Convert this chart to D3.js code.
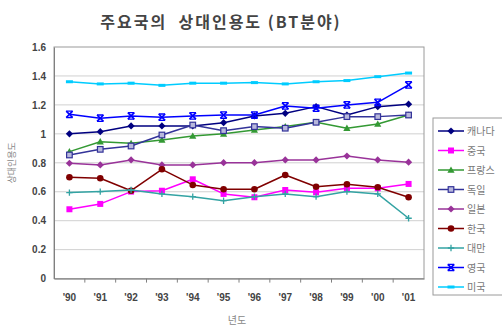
<!DOCTYPE html>
<html>
<head>
<meta charset="utf-8">
<script src="https://cdn.jsdelivr.net/npm/d3@7/dist/d3.min.js"></script>
<style>
  html, body { margin: 0; padding: 0; background: #fff; }
  svg { display: block; }
</style>
</head>
<body>
<svg id="chart" width="502" height="335"></svg>
<script>
// Relative citation index, BT field, by country
const years = ["'90", "'91", "'92", "'93", "'94", "'95", "'96", "'97", "'98", "'99", "'00", "'01"];
const yTicks = [0, 0.2, 0.4, 0.6, 0.8, 1, 1.2, 1.4, 1.6];

const canada  = [1.00, 1.015, 1.055, 1.055, 1.055, 1.077, 1.124, 1.142, 1.188, 1.13, 1.188, 1.205];
const china   = [0.479, 0.516, 0.601, 0.607, 0.686, 0.585, 0.562, 0.612, 0.596, 0.624, 0.624, 0.654];
const france  = [0.877, 0.946, 0.935, 0.958, 0.985, 1.00, 1.027, 1.05, 1.08, 1.039, 1.068, 1.13];
const germany = [0.854, 0.893, 0.916, 0.992, 1.061, 1.022, 1.05, 1.039, 1.08, 1.119, 1.119, 1.13];
const japan   = [0.797, 0.785, 0.82, 0.785, 0.785, 0.801, 0.801, 0.82, 0.82, 0.847, 0.82, 0.804];
const korea   = [0.70, 0.693, 0.607, 0.755, 0.647, 0.617, 0.617, 0.716, 0.635, 0.652, 0.631, 0.562];
const taiwan  = [0.594, 0.601, 0.612, 0.585, 0.566, 0.538, 0.566, 0.585, 0.566, 0.601, 0.585, 0.417];
const uk      = [1.135, 1.108, 1.124, 1.115, 1.124, 1.13, 1.13, 1.193, 1.177, 1.2, 1.218, 1.338];
const usa     = [1.36, 1.345, 1.35, 1.335, 1.35, 1.35, 1.354, 1.345, 1.36, 1.368, 1.395, 1.42];

const seriesNames = ["캐나다", "중국", "프랑스", "독일", "일본", "한국", "대만", "영국", "미국"];
const seriesValues = [canada, china, france, germany, japan, korea, taiwan, uk, usa];
const seriesColors = ["#000080", "#ff00ff", "#339933", "#333399", "#993399", "#800000", "#33a3a3", "#0000ff", "#00ccff"];
const seriesMarkers = ["diamond", "square", "triangle", "opensquare", "diamond", "circle", "plus", "cross", "dash"];

const svg = d3.select("#chart");
const plot = { left: 54, top: 47, right: 424, bottom: 278.6 };

const x = d3.scaleBand().domain(years).range([plot.left, plot.right]);
const y = d3.scaleLinear().domain([0, 1.6]).range([plot.bottom, plot.top]);

// Title
svg.append("text")
  .attr("x", 221).attr("y", 28)
  .attr("text-anchor", "middle")
  .attr("font-family", "'Noto Sans CJK KR', sans-serif")
  .attr("font-size", 16).attr("font-weight", "bold")
  .attr("letter-spacing", 2)
  .style("white-space", "pre")
  .attr("fill", "#444")
  .text("주요국의  상대인용도 (BT분야)");

// Gridlines
svg.append("g")
  .selectAll("line")
  .data(yTicks.filter(d => d > 0 && d < 1.6))
  .join("line")
  .attr("x1", plot.left).attr("x2", plot.right)
  .attr("y1", d => y(d)).attr("y2", d => y(d))
  .attr("stroke", "#d0d0d0").attr("stroke-width", 1);

// Plot frame
svg.append("rect")
  .attr("x", plot.left).attr("y", plot.top)
  .attr("width", plot.right - plot.left).attr("height", plot.bottom - plot.top)
  .attr("fill", "none").attr("stroke", "#9a9a9a").attr("stroke-width", 1);

// Y axis
const yAxis = svg.append("g")
  .attr("transform", `translate(${plot.left},0)`)
  .call(d3.axisLeft(y).tickValues(yTicks).tickSize(0).tickPadding(8).tickFormat(d3.format("~g")));
yAxis.select(".domain").attr("stroke", "#808080");
yAxis.selectAll("text")
  .attr("font-family", "'Liberation Sans', Arial, sans-serif")
  .attr("font-size", 10).attr("font-weight", "bold").attr("fill", "#444");

// X axis with ticks between categories
const xAxis = svg.append("g")
  .attr("transform", `translate(0,${plot.bottom})`)
  .call(d3.axisBottom(x).tickSize(0).tickPadding(15));
xAxis.select(".domain").attr("stroke", "#808080");
xAxis.selectAll("text")
  .attr("font-family", "'Liberation Sans', Arial, sans-serif")
  .attr("font-size", 10).attr("font-weight", "bold").attr("fill", "#444");
xAxis.append("g")
  .selectAll("line")
  .data(years.slice(1))
  .join("line")
  .attr("x1", d => x(d)).attr("x2", d => x(d))
  .attr("y1", 0).attr("y2", 4)
  .attr("stroke", "#808080");

// Axis titles
svg.append("text")
  .attr("transform", `translate(15,${(plot.top + plot.bottom) / 2}) rotate(-90)`)
  .attr("text-anchor", "middle")
  .attr("font-family", "'Noto Sans CJK KR', sans-serif")
  .attr("font-size", 9).attr("fill", "#888")
  .text("상대인용도");
svg.append("text")
  .attr("x", 237).attr("y", 324)
  .attr("text-anchor", "middle")
  .attr("font-family", "'Noto Sans CJK KR', sans-serif")
  .attr("font-size", 10).attr("fill", "#888")
  .text("년도");

// Marker drawing
function drawMarker(g, kind, color, cx, cy) {
  const s = 3;
  switch (kind) {
    case "diamond":
      g.append("path").attr("d", `M${cx},${cy - 3.6}L${cx + 3.6},${cy}L${cx},${cy + 3.6}L${cx - 3.6},${cy}Z`).attr("fill", color);
      break;
    case "square":
      g.append("rect").attr("x", cx - s).attr("y", cy - s).attr("width", 2 * s).attr("height", 2 * s).attr("fill", color);
      break;
    case "opensquare":
      g.append("rect").attr("x", cx - 2.8).attr("y", cy - 2.8).attr("width", 5.6).attr("height", 5.6)
        .attr("fill", "#b8b8dc").attr("stroke", color).attr("stroke-width", 1.2);
      break;
    case "triangle":
      g.append("path").attr("d", `M${cx},${cy - 3.6}L${cx + 3.6},${cy + 2.8}L${cx - 3.6},${cy + 2.8}Z`).attr("fill", color);
      break;
    case "circle":
      g.append("circle").attr("cx", cx).attr("cy", cy).attr("r", 3.3).attr("fill", color);
      break;
    case "plus":
      g.append("path").attr("d", `M${cx - 3.2},${cy}H${cx + 3.2}M${cx},${cy - 3.2}V${cy + 3.2}`)
        .attr("stroke", color).attr("stroke-width", 1.3);
      break;
    case "cross":
      g.append("path").attr("d", `M${cx - 3.2},${cy - 3.2}L${cx + 3.2},${cy + 3.2}M${cx + 3.2},${cy - 3.2}L${cx - 3.2},${cy + 3.2}`)
        .attr("stroke", color).attr("stroke-width", 1.7);
      g.append("path").attr("d", `M${cx - 3.2},${cy - 3.2}H${cx + 3.2}M${cx - 3.2},${cy + 3.2}H${cx + 3.2}`)
        .attr("stroke", color).attr("stroke-width", 1.3);
      break;
    case "dash":
      g.append("rect").attr("x", cx - 3.5).attr("y", cy - 1.5).attr("width", 7).attr("height", 3).attr("fill", color);
      break;
  }
}

// Series lines
const line = d3.line()
  .x((d, i) => x(years[i]) + x.bandwidth() / 2)
  .y(d => y(d));

seriesValues.forEach((vals, k) => {
  const g = svg.append("g");
  g.append("path")
    .attr("d", line(vals))
    .attr("fill", "none")
    .attr("stroke", seriesColors[k])
    .attr("stroke-width", 1.5)
    .attr("stroke-linejoin", "round");
  vals.forEach((v, i) => drawMarker(g, seriesMarkers[k], seriesColors[k], x(years[i]) + x.bandwidth() / 2, y(v)));
});

// Legend
const legend = svg.append("g");
legend.append("rect")
  .attr("x", 433).attr("y", 118).attr("width", 80).attr("height", 177)
  .attr("fill", "#fff").attr("stroke", "#9a9a9a");
seriesNames.forEach((name, k) => {
  const ly = 131 + k * 19.5;
  const g = legend.append("g");
  g.append("line").attr("x1", 438).attr("x2", 464).attr("y1", ly).attr("y2", ly)
    .attr("stroke", seriesColors[k]).attr("stroke-width", 1.5);
  drawMarker(g, seriesMarkers[k], seriesColors[k], 451, ly);
  g.append("text").attr("x", 467).attr("y", ly + 4)
    .attr("font-family", "'Noto Sans CJK KR', sans-serif")
    .attr("font-size", 10).attr("fill", "#777")
    .text(name);
});
</script>
</body>
</html>
